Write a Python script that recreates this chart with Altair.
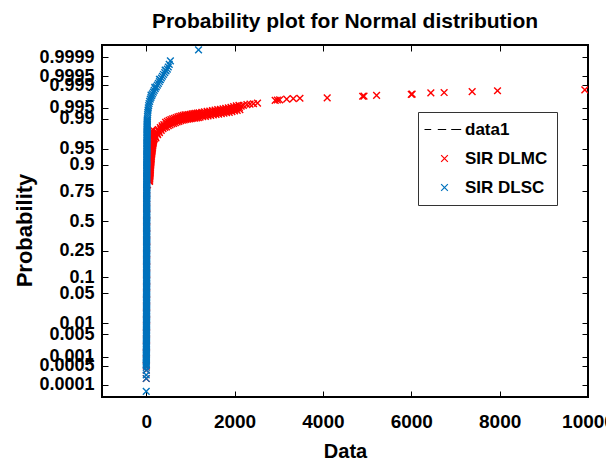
import altair as alt
import pandas as pd
from statistics import NormalDist

FONT = "Liberation Sans"

series_names = ["data1", "SIR DLMC", "SIR DLSC"]
series_colors = ["#000000", "#FF0000", "#0072BD"]

x_ticks = [0, 2000, 4000, 6000, 8000, 10000]
y_tick_labels = ["0.0001", "0.0005", "0.001", "0.005", "0.01", "0.05", "0.1", "0.25",
                 "0.5", "0.75", "0.9", "0.95", "0.99", "0.995", "0.999", "0.9995", "0.9999"]

# y values are normal quantile scores (the linear position on the probability axis)
# ---- SIR DLMC (red) ----
dlmc_low_x = [2, 3, 3, 4, 5, 6, 7, 7, 8, 8, 8, 9, 9, 9, 10, 10, 10, 10, 10, 11, 11, 11, 11, 11, 11, 12, 12, 12, 13, 30]
dlmc_low_q = [-3.58, -3.39, -3.30, -3.15, -3.00, -2.85, -2.70, -2.55, -2.40, -2.25, -2.10, -1.95, -1.80, -1.65,
              -1.50, -1.35, -1.20, -1.05, -0.90, -0.75, -0.60, -0.45, -0.30, -0.15, 0.00, 0.15, 0.30, 0.50, 0.70, 0.82]

dlmc_vert_x = [75, 80, 84, 87, 90, 93, 97, 100, 104, 108, 112, 117, 122, 128, 134, 140, 147, 155, 163, 172, 182,
               110, 118, 126, 135, 145,
               77, 82, 85, 88, 91, 95, 98, 102, 106, 110, 114, 119, 125, 131, 137, 143, 151, 159, 167, 177]
dlmc_vert_q = [0.90, 0.95, 1.00, 1.05, 1.10, 1.15, 1.20, 1.25, 1.30, 1.35, 1.40, 1.45, 1.50, 1.55, 1.60, 1.65,
               1.70, 1.75, 1.80, 1.85, 1.88, 1.90, 1.95, 2.00, 2.04, 2.08,
               0.925, 0.975, 1.025, 1.075, 1.125, 1.175, 1.225, 1.275, 1.325, 1.375, 1.425, 1.475, 1.525,
               1.575, 1.625, 1.675, 1.725, 1.775, 1.825, 1.865]

dlmc_up_x = [200, 240, 280, 320, 360, 400, 440, 480, 520, 560, 600, 640, 680, 720, 760, 800, 840, 880, 920, 960,
             1000, 1040, 1080, 1120, 1160, 1200, 1260, 1320, 1380, 1440, 1500, 1560, 1620, 1680, 1740, 1800,
             1860, 1920, 1980, 2040, 2100]
dlmc_up_q = [1.95, 2.02, 2.07, 2.12, 2.16, 2.19, 2.24, 2.265, 2.285, 2.305, 2.32, 2.335, 2.35, 2.365, 2.38, 2.39,
             2.40, 2.41, 2.415, 2.42, 2.425, 2.435, 2.44, 2.445, 2.45, 2.46, 2.47, 2.48, 2.49, 2.50, 2.51, 2.52,
             2.53, 2.54, 2.55, 2.56, 2.57, 2.585, 2.60, 2.615, 2.63]
dlmc_mid_x = [210, 250, 290, 330, 370, 410, 450, 490, 530, 570, 610, 650, 690, 730, 770, 810, 850, 890, 930, 970,
              1010, 1050, 1090, 1130, 1170, 1210, 1270, 1330, 1390, 1450, 1510, 1570, 1630, 1690, 1750, 1810,
              1870, 1930, 1990, 2050, 2110]
dlmc_mid_q = [1.92, 1.99, 2.04, 2.09, 2.13, 2.16, 2.19, 2.215, 2.235, 2.255, 2.27, 2.285, 2.30, 2.315, 2.33, 2.34,
              2.35, 2.36, 2.365, 2.37, 2.375, 2.385, 2.39, 2.395, 2.40, 2.41, 2.42, 2.43, 2.44, 2.45, 2.46, 2.47,
              2.48, 2.49, 2.50, 2.51, 2.52, 2.535, 2.55, 2.565, 2.58]
dlmc_lo_x = [220, 260, 300, 340, 380, 420, 460, 500, 540, 580, 620, 660, 700, 740, 780, 820, 860, 900, 940, 980,
             1020, 1060, 1100, 1140, 1180, 1220, 1280, 1340, 1400, 1460, 1520, 1580, 1640, 1700, 1760, 1820,
             1880, 1940, 2000, 2060, 2120]
dlmc_lo_q = [1.89, 1.96, 2.01, 2.06, 2.10, 2.13, 2.14, 2.165, 2.185, 2.205, 2.22, 2.235, 2.25, 2.265, 2.28, 2.29,
             2.30, 2.31, 2.315, 2.32, 2.325, 2.335, 2.34, 2.345, 2.35, 2.36, 2.37, 2.38, 2.39, 2.40, 2.41, 2.42,
             2.43, 2.44, 2.45, 2.46, 2.47, 2.485, 2.50, 2.515, 2.53]

dlmc_tail_x = [2150, 2200, 2280, 2350, 2430, 2520, 2920, 2970, 3020, 3180, 3330, 3480, 4097, 4900, 4930, 5215,
               6000, 6020, 6443, 6744, 7378, 7952, 9928]
dlmc_tail_q = [2.61, 2.63, 2.645, 2.655, 2.665, 2.68, 2.74, 2.75, 2.755, 2.77, 2.78, 2.79, 2.80, 2.835, 2.84,
               2.855, 2.88, 2.885, 2.91, 2.92, 2.94, 2.96, 2.98]

# ---- SIR DLSC (blue) ----
dlsc_bot_x = [1, 2, 1, 3, 2]
dlsc_bot_q = [-3.87, -3.58, -3.50, -3.39, -3.33]

dlsc_col_q = [-3.28, -3.23, -3.18, -3.13, -3.08, -3.03, -2.98, -2.93, -2.88, -2.83, -2.78, -2.73, -2.68, -2.63,
              -2.58, -2.53, -2.48, -2.43, -2.38, -2.33, -2.28, -2.23, -2.18, -2.13, -2.08, -2.03, -1.98, -1.93,
              -1.88, -1.83, -1.78, -1.73, -1.68, -1.63, -1.58, -1.53, -1.48, -1.43, -1.38, -1.33, -1.28, -1.23,
              -1.18, -1.13, -1.08, -1.03, -0.98, -0.93, -0.88, -0.83, -0.78, -0.73, -0.68, -0.63, -0.58, -0.53,
              -0.48, -0.43, -0.38, -0.33, -0.28, -0.23, -0.18, -0.13, -0.08, -0.03, 0.02, 0.07, 0.12, 0.17,
              0.22, 0.27, 0.32, 0.37, 0.42, 0.47, 0.52, 0.57, 0.62, 0.67, 0.72, 0.77, 0.82, 0.87, 0.92, 0.97,
              1.02, 1.07, 1.12, 1.17, 1.22, 1.27, 1.32, 1.37, 1.42, 1.47, 1.52, 1.57, 1.62, 1.67, 1.72, 1.77,
              1.82, 1.87, 1.92, 1.97, 2.02, 2.07, 2.12, 2.17, 2.22, 2.27]
dlsc_col2_q = [-3.255, -3.205, -3.155, -3.105, -3.055, -3.005, -2.955, -2.905, -2.855, -2.805, -2.755, -2.705,
               -2.655, -2.605, -2.555, -2.505, -2.455, -2.405, -2.355, -2.305, -2.255, -2.205, -2.155, -2.105,
               -2.055, -2.005, -1.955, -1.905, -1.855, -1.805, -1.755, -1.705, -1.655, -1.605, -1.555, -1.505,
               -1.455, -1.405, -1.355, -1.305, -1.255, -1.205, -1.155, -1.105, -1.055, -1.005, -0.955, -0.905,
               -0.855, -0.805, -0.755, -0.705, -0.655, -0.605, -0.555, -0.505, -0.455, -0.405, -0.355, -0.305,
               -0.255, -0.205, -0.155, -0.105, -0.055, -0.005, 0.045, 0.095, 0.145, 0.195, 0.245, 0.295, 0.345,
               0.395, 0.445, 0.495, 0.545, 0.595, 0.645, 0.695, 0.745, 0.795, 0.845, 0.895, 0.945, 0.995, 1.045,
               1.095, 1.145, 1.195, 1.245, 1.295, 1.345, 1.395, 1.445, 1.495, 1.545, 1.595, 1.645, 1.695, 1.745,
               1.795, 1.845, 1.895, 1.945, 1.995, 2.045, 2.095, 2.145, 2.195, 2.245, 2.295]
dlsc_col_x = [3, 3, 4, 4, 4, 5, 5, 5,
              5, 6, 6, 6, 6, 7, 7, 7,
              7, 7, 8, 8, 8, 8, 8, 8,
              8, 9, 9, 9, 9, 9, 9, 9,
              9, 9, 10, 10, 10, 10, 10, 10,
              10, 10, 10, 10, 10, 10, 10, 10,
              10, 10, 10, 10, 11, 11, 11, 11,
              11, 11, 11, 11, 11, 11, 11, 11,
              11, 11, 11, 12, 12, 12, 12, 12,
              12, 12, 12, 12, 12, 13, 13, 13,
              13, 13, 13, 13, 14, 14, 14, 14,
              14, 15, 15, 15, 15, 16, 16, 16,
              17, 17, 17, 18, 18, 18, 19, 19,
              20, 20, 21, 21, 22, 22, 23, 24]

dlsc_top_x = [26, 29, 33, 37, 42, 48, 56, 66, 78, 92, 108, 125, 143, 162, 182, 205, 228, 252, 276, 300, 322,
              345, 368, 392, 420, 450, 478, 500, 522, 548, 110, 195, 300, 430, 1185]
dlsc_top_q = [2.32, 2.37, 2.42, 2.47, 2.52, 2.57, 2.62, 2.67, 2.72, 2.77, 2.81, 2.85, 2.89, 2.93, 2.97, 3.01,
              3.05, 3.09, 3.13, 3.17, 3.21, 3.25, 3.29, 3.33, 3.37, 3.41, 3.45, 3.50, 3.56, 3.64, 2.86, 3.04,
              3.22, 3.43, 3.89]

rows = []
def add(xs, qs, name):
    for xv, qv in zip(xs, qs):
        rows.append({"x": xv, "q": qv, "series": name})

add(dlmc_low_x, dlmc_low_q, "SIR DLMC")
add(dlmc_vert_x, dlmc_vert_q, "SIR DLMC")
add(dlmc_up_x, dlmc_up_q, "SIR DLMC")
add(dlmc_mid_x, dlmc_mid_q, "SIR DLMC")
add(dlmc_lo_x, dlmc_lo_q, "SIR DLMC")
add(dlmc_tail_x, dlmc_tail_q, "SIR DLMC")
add(dlsc_bot_x, dlsc_bot_q, "SIR DLSC")
add(dlsc_col_x, dlsc_col_q, "SIR DLSC")
add(dlsc_col_x, dlsc_col2_q, "SIR DLSC")
add(dlsc_top_x, dlsc_top_q, "SIR DLSC")
df = pd.DataFrame(rows)

nd = NormalDist()
y_tick_q = [nd.inv_cdf(float(s)) for s in y_tick_labels]
label_expr = ""
for qv, s in zip(y_tick_q, y_tick_labels):
    label_expr += f"abs(datum.value - ({qv:.5f})) < 0.001 ? '{s}' : "
label_expr += "''"

X_PATH = "M-1,-1L1,1M-1,1L1,-1"
DASH_PATH = "M-5.96,0L-3.97,0M-2,0L0.5,0M2,0L4.98,0"

legend = alt.Legend(
    orient="none", legendX=316, legendY=67, padding=9,
    strokeColor="#333333", fillColor="white",
    labelFont=FONT, labelFontSize=17, labelFontWeight="bold", labelColor="black",
    symbolSize=45, symbolStrokeWidth=1.2, rowPadding=11, labelOffset=12, symbolOffset=9,
)

chart = alt.Chart(df).mark_point(
    filled=False, size=45, strokeWidth=1.4, opacity=1, clip=True
).encode(
    x=alt.X("x:Q", scale=alt.Scale(domain=[-1000, 10000], nice=False, zero=False),
            axis=alt.Axis(values=x_ticks, format="d", title="Data",
                          labelFont=FONT, labelFontSize=19, labelFontWeight="bold", labelColor="black",
                          labelPadding=15, ticks=False, domain=False, grid=True,
                          gridColor="black", gridOpacity=1, gridWidth=1, gridDash=[6, 340, 6],
                          labelFlush=False, labelOverlap=False,
                          titleFont=FONT, titleFontSize=20, titleFontWeight="bold", titleColor="black",
                          titleBaseline="alphabetic", titleY=60, titleX=243)),
    y=alt.Y("q:Q", scale=alt.Scale(domain=[-4, 4], nice=False, zero=False),
            axis=alt.Axis(values=y_tick_q, labelExpr=label_expr, title="Probability",
                          labelFont=FONT, labelFontSize=18, labelFontWeight="bold", labelColor="black",
                          labelPadding=8, ticks=False, domain=False, grid=True,
                          gridColor="black", gridOpacity=1, gridWidth=1, gridDash=[6, 474, 6],
                          labelFlush=False, labelOverlap=False,
                          titleFont=FONT, titleFontSize=22, titleFontWeight="bold", titleColor="black",
                          titleBaseline="alphabetic", titleX=-71, titleY=185, titleAngle=270)),
    color=alt.Color("series:N", title=None,
                    scale=alt.Scale(domain=series_names, range=series_colors), legend=legend),
    shape=alt.Shape("series:N", title=None,
                    scale=alt.Scale(domain=series_names, range=[DASH_PATH, X_PATH, X_PATH]), legend=legend),
).properties(
    width=486, height=352,
    padding={"left": 94, "top": 37, "right": 18, "bottom": 63},
    autosize=alt.AutoSizeParams(type="none"),
    title=alt.TitleParams("Probability plot for Normal distribution", font=FONT, fontSize=21,
                          fontWeight="bold", color="black", anchor="middle", offset=-4,
                          baseline="alphabetic"),
).configure_view(stroke="black", strokeWidth=2)

chart.save("out.html", embed_options={"renderer": "svg", "actions": False})
